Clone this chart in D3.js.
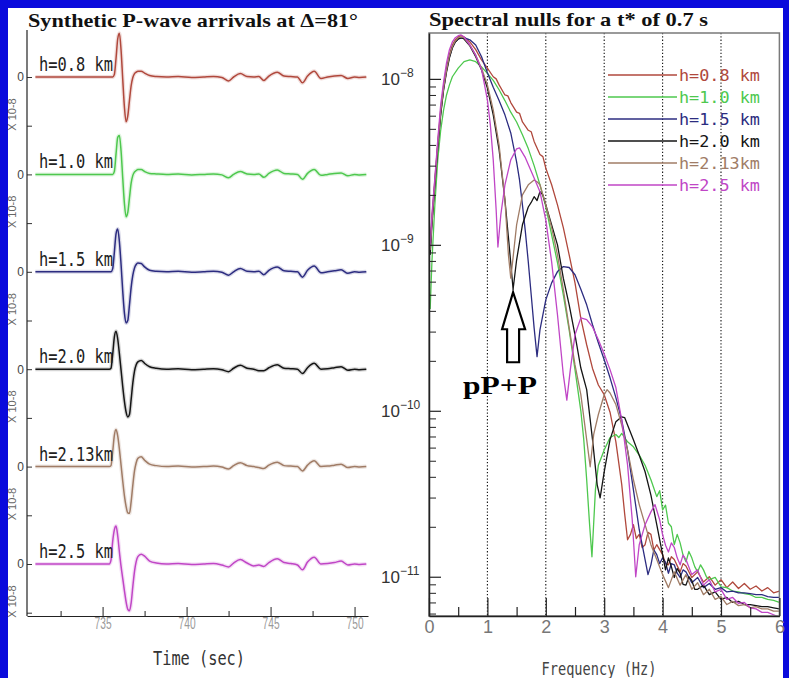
<!DOCTYPE html>
<html>
<head>
<meta charset="utf-8">
<script src="https://cdn.jsdelivr.net/npm/d3@7/dist/d3.min.js"></script>
<style>
html,body{margin:0;padding:0;background:#0a0adc;overflow:hidden}
svg{display:block}
</style>
</head>
<body>
<svg id="chart" width="789" height="678"></svg>
<script>
// ---------------- data ----------------
const depthLabels = ["h=0.8 km", "h=1.0 km", "h=1.5 km", "h=2.0 km", "h=2.13km", "h=2.5 km"];
const seriesColors = ["#b0483c", "#4ec84e", "#2c2c80", "#151515", "#a07c66", "#c046c6"];

// time axis (s) shared by all synthetic seismograms
const timeSec = [
  731.0, 735.0, 735.4, 735.5, 735.6,
  735.7, 735.8, 735.9, 736.0, 736.1, 736.2, 736.3, 736.4, 736.5, 736.6,
  736.7, 736.8, 736.9, 737.0, 737.1, 737.3, 737.5, 737.8, 738.2, 738.8,
  739.5, 740.3, 741.0, 741.6, 742.1, 742.5, 742.8, 743.2, 743.6, 744.0,
  744.3, 744.6, 744.9, 745.4, 745.8, 746.2, 746.6, 746.9, 747.2, 747.6,
  748.0, 748.4, 748.8, 749.2, 749.6, 750.0, 750.3, 750.7
];
// amplitudes in units of 1e-8
const wave08 = [
  0, 0, 0, 0, 0,
  0.05, 0.38, 0.78, 0.90, 0.55, -0.05, -0.62, -0.92, -0.80, -0.48,
  -0.18, -0.01, 0.07, 0.10, 0.12, 0.12, 0.08, 0.03, 0.01, 0.00,
  0.01, -0.01, 0.00, 0.01, -0.01, -0.08, 0.00, 0.07, 0.01, 0.00,
  0.01, -0.07, 0.02, 0.10, 0.02, 0.01, 0.00, -0.12, 0.02, 0.12,
  -0.03, 0.00, 0.02, 0.03, -0.03, 0.00, -0.01, 0.00
];
const wave10 = [
  0, 0, 0, 0, 0,
  0.06, 0.42, 0.76, 0.80, 0.48, -0.08, -0.60, -0.87, -0.78, -0.48,
  -0.18, -0.02, 0.05, 0.08, 0.10, 0.10, 0.06, 0.02, 0.01, 0.00,
  0.01, -0.01, 0.00, 0.01, -0.01, -0.07, 0.00, 0.06, 0.01, 0.00,
  0.01, -0.06, 0.02, 0.09, 0.02, 0.01, 0.00, -0.10, 0.02, 0.10,
  -0.02, 0.00, 0.02, 0.03, -0.03, 0.00, -0.01, 0.00
];
const wave15 = [
  0, 0, 0, 0, 0.06,
  0.40, 0.78, 0.88, 0.62, 0.15, -0.40, -0.85, -1.05, -1.00, -0.68,
  -0.32, -0.07, 0.08, 0.15, 0.18, 0.17, 0.10, 0.03, 0.01, 0.00,
  0.01, -0.01, 0.00, 0.01, -0.01, -0.07, 0.00, 0.07, 0.01, 0.00,
  0.01, -0.06, 0.03, 0.10, 0.02, 0.01, 0.00, -0.11, 0.03, 0.12,
  -0.02, 0.00, 0.02, 0.04, -0.03, 0.00, -0.01, 0.00
];
const wave20 = [
  0, 0, 0, 0.02, 0.30,
  0.66, 0.78, 0.62, 0.32, -0.02, -0.36, -0.66, -0.88, -0.98, -0.93,
  -0.62, -0.28, -0.04, 0.09, 0.15, 0.18, 0.12, 0.05, 0.02, 0.00,
  0.01, -0.01, 0.00, 0.01, -0.01, -0.05, 0.02, 0.08, 0.02, 0.00,
  -0.03, -0.03, 0.03, 0.09, 0.02, 0.01, 0.00, -0.09, 0.03, 0.12,
  0.00, 0.01, 0.03, 0.05, -0.02, 0.00, -0.01, 0.00
];
const wave213 = [
  0, 0, 0, 0.02, 0.30,
  0.64, 0.76, 0.63, 0.36, 0.03, -0.30, -0.60, -0.82, -0.95, -0.96,
  -0.72, -0.38, -0.09, 0.08, 0.17, 0.20, 0.13, 0.05, 0.02, 0.00,
  0.01, -0.01, 0.00, 0.01, -0.01, -0.05, 0.02, 0.08, 0.02, 0.00,
  -0.02, -0.04, 0.03, 0.09, 0.02, 0.01, 0.00, -0.09, 0.03, 0.12,
  0.00, 0.01, 0.03, 0.05, -0.02, 0.00, -0.01, 0.00
];
const wave25 = [
  0, 0, 0, 0.08, 0.46,
  0.70, 0.78, 0.58, 0.25, -0.05, -0.30, -0.55, -0.78, -0.93, -0.96,
  -0.80, -0.46, -0.15, 0.05, 0.15, 0.20, 0.16, 0.06, 0.02, 0.00,
  0.01, -0.01, 0.00, 0.01, -0.02, -0.06, 0.02, 0.09, 0.02, -0.04,
  -0.02, -0.05, 0.03, 0.11, 0.03, 0.01, -0.02, -0.12, 0.04, 0.14,
  0.00, 0.01, 0.03, 0.06, -0.02, 0.00, -0.01, 0.00
];
const waves = [wave08, wave10, wave15, wave20, wave213, wave25];

// spectra: [frequency (Hz), amplitude]
const spec08 = [[0.02,9.6e-10],[0.05,1.45e-9],[0.1,2.46e-9],[0.15,4.1e-9],[0.2,6.5e-9],[0.25,9.1e-9],[0.3,1.16e-8],[0.35,1.41e-8],[0.4,1.6e-8],[0.45,1.72e-8],[0.5,1.79e-8],[0.55,1.82e-8],[0.6,1.79e-8],[0.7,1.67e-8],[0.8,1.5e-8],[0.9,1.3e-8],[1.0,1.16e-8],[1.1,1.03e-8],[1.15,1.0e-8],[1.2,9.2e-9],[1.3,8.0e-9],[1.35,7.9e-9],[1.4,7.2e-9],[1.5,6.3e-9],[1.55,6.2e-9],[1.6,5.5e-9],[1.7,4.9e-9],[1.75,4.8e-9],[1.8,4.2e-9],[1.9,3.5e-9],[1.95,3.4e-9],[2.0,2.9e-9],[2.1,2.3e-9],[2.2,1.74e-9],[2.3,1.27e-9],[2.4,8.7e-10],[2.5,5.9e-10],[2.6,3.6e-10],[2.7,2.5e-10],[2.8,1.8e-10],[2.9,1.43e-10],[3.0,1.25e-10],[3.1,9.8e-11],[3.2,6.5e-11],[3.3,3.6e-11],[3.35,2.4e-11],[3.4,1.67e-11],[3.45,1.8e-11],[3.5,2.06e-11],[3.55,1.7e-11],[3.6,1.8e-11],[3.65,1.5e-11],[3.7,1.56e-11],[3.75,1.85e-11],[3.8,1.8e-11],[3.85,1.45e-11],[3.9,1.56e-11],[4.0,1.36e-11],[4.05,1.2e-11],[4.1,1.18e-11],[4.15,1.32e-11],[4.2,1.27e-11],[4.3,1.07e-11],[4.35,1.2e-11],[4.4,1.16e-11],[4.5,9.9e-12],[4.6,1.07e-11],[4.7,9.3e-12],[4.8,1.0e-11],[4.9,8.9e-12],[5.0,9.6e-12],[5.1,8.6e-12],[5.2,9.3e-12],[5.3,8.5e-12],[5.4,9.1e-12],[5.5,8.4e-12],[5.6,8.8e-12],[5.7,8.2e-12],[5.8,8.6e-12],[5.9,8.0e-12],[6.0,8.2e-12]];
const spec10 = [[0.02,4.1e-10],[0.05,7.9e-10],[0.1,1.74e-9],[0.15,3.25e-9],[0.2,4.9e-9],[0.25,6.5e-9],[0.3,8.0e-9],[0.35,9.2e-9],[0.4,1.03e-8],[0.5,1.16e-8],[0.6,1.27e-8],[0.7,1.3e-8],[0.8,1.27e-8],[0.9,1.18e-8],[1.0,1.08e-8],[1.1,9.8e-9],[1.2,8.6e-9],[1.3,7.4e-9],[1.4,6.3e-9],[1.5,5.5e-9],[1.6,4.6e-9],[1.7,3.8e-9],[1.8,3.0e-9],[1.9,2.3e-9],[2.0,1.7e-9],[2.1,1.15e-9],[2.2,7.8e-10],[2.3,5.0e-10],[2.4,3.07e-10],[2.5,1.77e-10],[2.6,1.0e-10],[2.65,6.7e-11],[2.7,3.84e-11],[2.75,2.06e-11],[2.79,1.32e-11],[2.85,3.35e-11],[2.9,4.7e-11],[3.0,5.8e-11],[3.1,6.9e-11],[3.2,7.2e-11],[3.25,6.9e-11],[3.3,7.3e-11],[3.4,6.5e-11],[3.5,6.07e-11],[3.6,5.4e-11],[3.7,4.7e-11],[3.8,3.84e-11],[3.9,3.04e-11],[3.95,3.3e-11],[4.0,2.53e-11],[4.05,2.7e-11],[4.1,2.1e-11],[4.15,2.0e-11],[4.2,1.56e-11],[4.25,1.8e-11],[4.3,1.6e-11],[4.35,1.35e-11],[4.4,1.23e-11],[4.45,1.42e-11],[4.5,1.3e-11],[4.55,1.15e-11],[4.6,1.07e-11],[4.65,1.18e-11],[4.7,1.1e-11],[4.75,1.0e-11],[4.8,9.6e-12],[4.9,9.9e-12],[5.0,8.7e-12],[5.1,8.6e-12],[5.2,8.2e-12],[5.3,8.1e-12],[5.4,7.9e-12],[5.5,7.8e-12],[5.6,7.5e-12],[5.7,7.5e-12],[5.8,7.3e-12],[5.9,7.2e-12],[6.0,7.0e-12]];
const spec15 = [[0.02,9.1e-10],[0.05,1.38e-9],[0.1,2.36e-9],[0.15,3.95e-9],[0.2,6.2e-9],[0.25,8.7e-9],[0.3,1.12e-8],[0.35,1.36e-8],[0.4,1.54e-8],[0.45,1.67e-8],[0.5,1.74e-8],[0.6,1.77e-8],[0.7,1.72e-8],[0.8,1.6e-8],[0.9,1.36e-8],[1.0,1.09e-8],[1.1,8.9e-9],[1.2,7.4e-9],[1.3,6.07e-9],[1.4,4.72e-9],[1.5,3.16e-9],[1.55,2.46e-9],[1.6,1.74e-9],[1.65,1.2e-9],[1.7,7.9e-10],[1.75,5.0e-10],[1.8,3.16e-10],[1.85,2.12e-10],[1.9,3.07e-10],[2.0,4.66e-10],[2.1,5.9e-10],[2.2,6.9e-10],[2.3,7.4e-10],[2.4,7.3e-10],[2.5,6.6e-10],[2.6,5.4e-10],[2.7,4.35e-10],[2.8,3.3e-10],[2.9,2.57e-10],[3.0,2.03e-10],[3.1,1.58e-10],[3.2,1.2e-10],[3.3,8.8e-11],[3.4,5.8e-11],[3.5,3.35e-11],[3.6,1.92e-11],[3.7,1.27e-11],[3.75,1.03e-11],[3.8,1.18e-11],[3.85,1.45e-11],[3.9,1.36e-11],[3.95,1.2e-11],[4.0,1.3e-11],[4.05,1.22e-11],[4.1,1.05e-11],[4.15,1.2e-11],[4.2,1.18e-11],[4.25,1.05e-11],[4.3,9.9e-12],[4.35,1.1e-11],[4.4,1.07e-11],[4.5,9.2e-12],[4.6,9.9e-12],[4.7,8.6e-12],[4.8,9.1e-12],[4.9,8.4e-12],[5.0,8.6e-12],[5.1,8.1e-12],[5.2,8.2e-12],[5.3,8.0e-12],[5.4,8.0e-12],[5.5,7.9e-12],[5.6,7.8e-12],[5.7,7.8e-12],[5.8,7.6e-12],[5.9,7.5e-12],[6.0,7.5e-12]];
const spec20 = [[0.02,8.7e-10],[0.05,1.32e-9],[0.1,2.27e-9],[0.15,3.84e-9],[0.2,6.07e-9],[0.25,8.6e-9],[0.3,1.1e-8],[0.35,1.34e-8],[0.4,1.54e-8],[0.45,1.67e-8],[0.5,1.74e-8],[0.55,1.77e-8],[0.6,1.74e-8],[0.7,1.58e-8],[0.8,1.36e-8],[0.9,1.13e-8],[1.0,8.8e-9],[1.1,6.07e-9],[1.2,3.74e-9],[1.3,1.87e-9],[1.38,9.3e-10],[1.44,5.4e-10],[1.5,8.1e-10],[1.6,1.32e-9],[1.7,1.69e-9],[1.75,1.8e-9],[1.8,1.95e-9],[1.85,1.85e-9],[1.9,2.09e-9],[1.95,2.0e-9],[2.0,1.74e-9],[2.1,1.32e-9],[2.2,1.0e-9],[2.3,6.3e-10],[2.4,4.35e-10],[2.5,2.87e-10],[2.6,1.81e-10],[2.7,1.34e-10],[2.8,6.7e-11],[2.88,3.58e-11],[2.93,2.99e-11],[3.0,4.29e-11],[3.1,6.7e-11],[3.2,8.6e-11],[3.3,9.2e-11],[3.35,9.1e-11],[3.4,8.2e-11],[3.5,6.7e-11],[3.6,5.4e-11],[3.7,4.29e-11],[3.8,3.1e-11],[3.9,2.06e-11],[4.0,1.36e-11],[4.05,1.1e-11],[4.1,1.3e-11],[4.15,1.15e-11],[4.2,9.9e-12],[4.25,1.12e-11],[4.3,1.05e-11],[4.35,9.0e-12],[4.4,8.9e-12],[4.45,1.0e-11],[4.5,9.5e-12],[4.55,8.4e-12],[4.6,8.4e-12],[4.7,8.9e-12],[4.8,7.8e-12],[4.9,8.1e-12],[5.0,7.3e-12],[5.1,7.5e-12],[5.2,7.0e-12],[5.3,7.1e-12],[5.4,6.8e-12],[5.5,6.8e-12],[5.6,6.7e-12],[5.7,6.6e-12],[5.8,6.6e-12],[5.9,6.5e-12],[6.0,6.4e-12]];
const spec213 = [[0.02,9.3e-10],[0.05,1.38e-9],[0.1,2.36e-9],[0.15,4.0e-9],[0.2,6.3e-9],[0.25,8.8e-9],[0.3,1.13e-8],[0.35,1.38e-8],[0.4,1.56e-8],[0.45,1.69e-8],[0.5,1.77e-8],[0.55,1.79e-8],[0.6,1.77e-8],[0.7,1.6e-8],[0.8,1.39e-8],[0.9,1.16e-8],[1.0,9.2e-9],[1.1,6.5e-9],[1.2,4.0e-9],[1.3,1.87e-9],[1.36,8.7e-10],[1.4,6.3e-10],[1.44,8.4e-10],[1.5,1.32e-9],[1.6,2.0e-9],[1.7,2.3e-9],[1.8,2.46e-9],[1.85,2.4e-9],[1.9,2.3e-9],[2.0,1.74e-9],[2.1,1.27e-9],[2.2,8.7e-10],[2.3,5.4e-10],[2.4,3.17e-10],[2.5,1.89e-10],[2.6,1.25e-10],[2.7,6.7e-11],[2.76,4.6e-11],[2.82,7.2e-11],[2.9,9.5e-11],[3.0,1.25e-10],[3.05,1.34e-10],[3.1,1.28e-10],[3.2,1.09e-10],[3.3,8.2e-11],[3.4,5.8e-11],[3.5,3.84e-11],[3.6,2.72e-11],[3.7,2.06e-11],[3.8,1.56e-11],[3.9,1.27e-11],[4.0,1.03e-11],[4.1,8.6e-12],[4.2,1.07e-11],[4.3,8.9e-12],[4.4,1.03e-11],[4.5,8.4e-12],[4.6,9.2e-12],[4.7,7.8e-12],[4.8,8.4e-12],[4.9,7.3e-12],[5.0,7.6e-12],[5.1,6.8e-12],[5.2,7.1e-12],[5.3,6.7e-12],[5.4,6.8e-12],[5.5,6.5e-12],[5.6,6.6e-12],[5.7,6.4e-12],[5.8,6.4e-12],[5.9,6.2e-12],[6.0,6.2e-12]];
const spec25 = [[0.02,1.0e-9],[0.05,1.52e-9],[0.1,2.53e-9],[0.15,4.29e-9],[0.2,6.97e-9],[0.25,9.6e-9],[0.3,1.25e-8],[0.35,1.5e-8],[0.4,1.67e-8],[0.45,1.77e-8],[0.5,1.82e-8],[0.55,1.84e-8],[0.6,1.79e-8],[0.7,1.6e-8],[0.8,1.39e-8],[0.9,1.14e-8],[1.0,7.47e-9],[1.05,5.3e-9],[1.1,3.25e-9],[1.15,1.62e-9],[1.18,9.7e-10],[1.23,1.52e-9],[1.3,2.3e-9],[1.4,3.25e-9],[1.5,3.79e-9],[1.55,3.84e-9],[1.65,3.35e-9],[1.8,2.53e-9],[1.9,2.09e-9],[2.0,1.41e-9],[2.1,7.9e-10],[2.2,3.79e-10],[2.3,1.65e-10],[2.36,1.16e-10],[2.42,1.77e-10],[2.5,2.87e-10],[2.6,3.63e-10],[2.7,3.54e-10],[2.8,3.2e-10],[2.9,2.68e-10],[3.0,2.2e-10],[3.1,1.77e-10],[3.2,1.38e-10],[3.3,8.8e-11],[3.4,4.72e-11],[3.48,2.2e-11],[3.54,1.0e-11],[3.6,1.56e-11],[3.7,2.06e-11],[3.8,2.46e-11],[3.87,2.72e-11],[3.95,2.2e-11],[4.0,1.79e-11],[4.05,1.55e-11],[4.1,1.41e-11],[4.15,1.6e-11],[4.2,1.5e-11],[4.25,1.3e-11],[4.3,1.18e-11],[4.35,1.35e-11],[4.4,1.27e-11],[4.5,1.03e-11],[4.6,1.1e-11],[4.7,8.9e-12],[4.8,9.6e-12],[4.9,8.1e-12],[5.0,8.4e-12],[5.1,7.3e-12],[5.2,7.5e-12],[5.3,6.9e-12],[5.4,7.0e-12],[5.5,6.5e-12],[5.6,6.4e-12],[5.7,6.1e-12],[5.8,6.1e-12],[5.9,5.9e-12],[6.0,5.7e-12]];
const spectra = [spec08, spec10, spec15, spec20, spec213, spec25];

// axis ticks
const timeTicks = [735, 740, 745, 750];
const timeMinorTicks = [732.5, 737.5, 742.5, 747.5];
const freqTicks = [0, 1, 2, 3, 4, 5, 6];
const freqMinorTicks = [0.5, 1.5, 2.5, 3.5, 4.5, 5.5];
const freqGrid = [1, 2, 3, 4, 5];
const ampMajorTicks = [1e-8, 1e-9, 1e-10, 1e-11];
const nullMarker = [1.44, 5.4e-10];   // pP+P null of the h=2.0 km spectrum

// ---------------- drawing ----------------
const mono = "'DejaVu Sans Mono', monospace";
const sans = "'Liberation Sans', Arial, sans-serif";
const serif = "'Liberation Serif', 'Times New Roman', serif";

const svg = d3.select("#chart");
svg.append("rect").attr("width", 789).attr("height", 678).attr("fill", "#0a0adc");
svg.append("rect").attr("x", 8).attr("y", 8).attr("width", 775).attr("height", 672).attr("fill", "#ffffff");

// ===== left panel: seismograms =====
const gL = svg.append("g");
const xT = d3.scaleLinear().domain([730.5, 750.8]).range([27, 368]);
const panelTop = 28.3, panelH = 97.4;

gL.append("text").attr("x", 28).attr("y", 27)
  .attr("font-family", serif).attr("font-weight", "bold").attr("font-size", 19)
  .attr("textLength", 330).attr("lengthAdjust", "spacingAndGlyphs")
  .attr("fill", "#111").text("Synthetic P-wave arrivals at \u0394=81\u00B0");

waves.forEach((w, i) => {
  const yW = d3.scaleLinear().domain([-1, 1]).range([panelTop + (i + 1) * panelH, panelTop + i * panelH]);
  const ax = gL.append("g").attr("transform", "translate(27,0)")
    .call(d3.axisLeft(yW).tickValues([-1, 0]).tickSize(-5).tickPadding(3)
      .tickFormat(d => d === 0 ? "0" : ""));
  ax.select(".domain").remove();
  ax.selectAll("line").attr("stroke", "#333");
  ax.selectAll("text").attr("font-family", sans).attr("font-size", 12).attr("fill", "#444");

  gL.append("text").attr("transform", `translate(16,${yW(-1) + 5}) rotate(-90)`)
    .attr("font-family", sans).attr("font-size", 11).attr("fill", "#666").text("X 10-8");

  const pts = timeSec.map((t, j) => [t, w[j]]);
  const line = d3.line().x(d => xT(d[0])).y(d => yW(d[1])).curve(d3.curveMonotoneX);
  gL.append("path").datum(pts).attr("d", line).attr("fill", "none")
    .attr("stroke", seriesColors[i]).attr("stroke-width", 4).attr("stroke-opacity", 0.18);
  gL.append("path").datum(pts).attr("d", line).attr("fill", "none")
    .attr("stroke", seriesColors[i]).attr("stroke-width", 1.5);

  gL.append("text").attr("x", 39).attr("y", yW(0) - 6)
    .attr("font-family", mono).attr("font-size", 19).attr("fill", "#222")
    .attr("textLength", 74).attr("lengthAdjust", "spacingAndGlyphs").text(depthLabels[i]);
});

gL.append("line").attr("x1", 27).attr("x2", 27).attr("y1", 30).attr("y2", 616)
  .attr("stroke", "#222").attr("stroke-width", 1.2);

const gxT = gL.append("g").attr("transform", "translate(0,616)")
  .call(d3.axisBottom(xT).tickValues(timeTicks).tickSize(-9).tickSizeOuter(0).tickPadding(2)
    .tickFormat(d3.format("d")));
gxT.select(".domain").attr("stroke", "#222").attr("stroke-width", 1.2);
gxT.selectAll("line").attr("stroke", "#222");
gxT.selectAll("text").attr("font-family", sans).attr("font-size", 16).attr("fill", "#9a9a9a")
  .attr("textLength", 17).attr("lengthAdjust", "spacingAndGlyphs");
const gxT2 = gL.append("g").attr("transform", "translate(0,616)")
  .call(d3.axisBottom(xT).tickValues(timeMinorTicks).tickSize(-5).tickFormat(""));
gxT2.select(".domain").remove();
gxT2.selectAll("line").attr("stroke", "#222");

gL.append("text").attr("x", 199).attr("y", 665).attr("text-anchor", "middle")
  .attr("font-family", mono).attr("font-size", 19).attr("fill", "#333")
  .attr("textLength", 92).attr("lengthAdjust", "spacingAndGlyphs").text("Time (sec)");

// ===== right panel: spectra =====
const gR = svg.append("g");
const xF = d3.scaleLinear().domain([0, 6]).range([429, 779.4]);
const yA = d3.scaleLog().domain([5.8e-12, 1.89e-8]).range([616, 33]);

gR.append("text").attr("x", 429).attr("y", 26)
  .attr("font-family", serif).attr("font-weight", "bold").attr("font-size", 19)
  .attr("textLength", 279).attr("lengthAdjust", "spacingAndGlyphs")
  .attr("fill", "#111").text("Spectral nulls for a t* of 0.7 s");

gR.selectAll("line.grid").data(freqGrid).join("line").attr("class", "grid")
  .attr("x1", d => xF(d)).attr("x2", d => xF(d)).attr("y1", 33).attr("y2", 616)
  .attr("stroke", "#111").attr("stroke-width", 1.1).attr("stroke-dasharray", "1.3,2");

svg.append("defs").append("clipPath").attr("id", "plotclip").append("rect")
  .attr("x", 429).attr("y", 33).attr("width", 350.4).attr("height", 583);

// legend
depthLabels.forEach((lab, i) => {
  const ly = 75 + i * 22;
  gR.append("line").attr("x1", 608).attr("x2", 677).attr("y1", ly).attr("y2", ly)
    .attr("stroke", seriesColors[i]).attr("stroke-width", 1.5);
  gR.append("text").attr("x", 679).attr("y", ly + 5.5)
    .attr("font-family", mono).attr("font-size", 15).attr("fill", seriesColors[i])
    .attr("textLength", 81).attr("lengthAdjust", "spacingAndGlyphs").text(lab);
});

const sLine = d3.line().x(d => xF(d[0])).y(d => yA(d[1]));
const gS = gR.append("g").attr("clip-path", "url(#plotclip)");
spectra.forEach((s, i) => {
  gS.append("path").datum(s).attr("d", sLine).attr("fill", "none")
    .attr("stroke", seriesColors[i]).attr("stroke-width", 1.3).attr("stroke-linejoin", "round");
});

// frame
gR.append("rect").attr("x", 429).attr("y", 33).attr("width", 350.4).attr("height", 583)
  .attr("fill", "none").attr("stroke", "#7a7a7a").attr("stroke-width", 1.5);

const gyA = gR.append("g").attr("transform", "translate(429,0)")
  .call(d3.axisLeft(yA).tickValues(ampMajorTicks).tickSize(-12).tickSizeOuter(0).tickFormat(""));
gyA.select(".domain").attr("stroke", "#222").attr("stroke-width", 1.5);
gyA.selectAll("line").attr("stroke", "#222").attr("stroke-width", 1.2);
const minorAmp = yA.ticks().filter(v => !ampMajorTicks.some(m => Math.abs(v / m - 1) < 1e-6));
const gyA2 = gR.append("g").attr("transform", "translate(429,0)")
  .call(d3.axisLeft(yA).tickValues(minorAmp).tickSize(-7).tickFormat(""));
gyA2.select(".domain").remove();
gyA2.selectAll("line").attr("stroke", "#222");

ampMajorTicks.forEach(v => {
  const e = Math.round(Math.log10(v));
  const t = gR.append("text").attr("x", 381).attr("y", yA(v) + 6)
    .attr("font-family", sans).attr("fill", "#333");
  t.append("tspan").attr("font-size", 17).text("10");
  t.append("tspan").attr("font-size", 12).attr("dy", -8).text("\u2212" + (-e));
});

const gxF = gR.append("g").attr("transform", "translate(0,616)")
  .call(d3.axisBottom(xF).tickValues(freqTicks).tickSize(-18).tickSizeOuter(0).tickPadding(4)
    .tickFormat(d3.format("d")));
gxF.select(".domain").attr("stroke", "#222").attr("stroke-width", 1.5);
gxF.selectAll("line").attr("stroke", "#222").attr("stroke-width", 1.2);
gxF.selectAll("text").attr("font-family", sans).attr("font-size", 18).attr("fill", "#777");
const gxF2 = gR.append("g").attr("transform", "translate(0,616)")
  .call(d3.axisBottom(xF).tickValues(freqMinorTicks).tickSize(-9).tickFormat(""));
gxF2.select(".domain").remove();
gxF2.selectAll("line").attr("stroke", "#222").attr("stroke-width", 1.2);

gR.append("text").attr("x", 599).attr("y", 675).attr("text-anchor", "middle")
  .attr("font-family", mono).attr("font-size", 18).attr("fill", "#444")
  .attr("textLength", 115).attr("lengthAdjust", "spacingAndGlyphs").text("Frequency (Hz)");

// pP+P annotation arrow
const tx = xF(nullMarker[0]), ty = yA(nullMarker[1]) + 3;
gR.append("path")
  .attr("d", `M${tx},${ty} L${tx + 12},${ty + 37} L${tx + 6},${ty + 37} L${tx + 6},${ty + 70} L${tx - 6},${ty + 70} L${tx - 6},${ty + 37} L${tx - 11},${ty + 37} Z`)
  .attr("fill", "#fff").attr("stroke", "#000").attr("stroke-width", 2.2).attr("stroke-linejoin", "miter");
gR.append("text").attr("x", tx - 13).attr("y", ty + 102).attr("text-anchor", "middle")
  .attr("font-family", serif).attr("font-weight", "bold").attr("font-size", 26)
  .attr("textLength", 74).attr("lengthAdjust", "spacingAndGlyphs").attr("fill", "#000").text("pP+P");
</script>
</body>
</html>
